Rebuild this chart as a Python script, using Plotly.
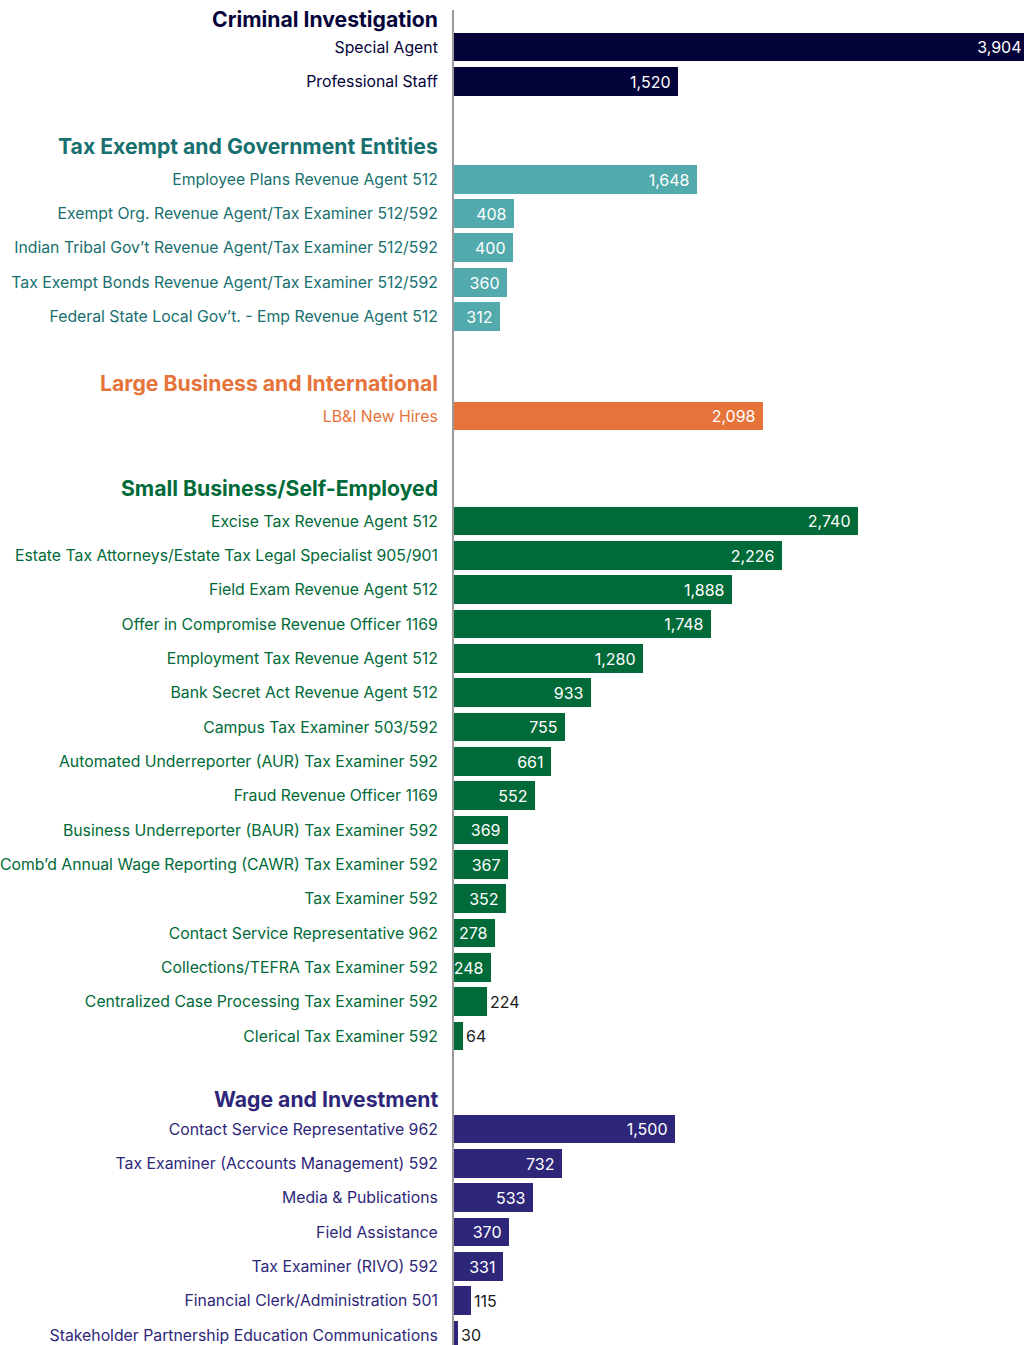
import plotly.graph_objects as go

# ---- data ----
groups = ["Criminal Investigation", "Tax Exempt and Government Entities",
          "Large Business and International", "Small Business/Self-Employed",
          "Wage and Investment"]

ci_labels = ["Special Agent", "Professional Staff"]
ci_values = [3904, 1520]

te_labels = ["Employee Plans Revenue Agent 512",
             "Exempt Org. Revenue Agent/Tax Examiner 512/592",
             "Indian Tribal Gov’t Revenue Agent/Tax Examiner 512/592",
             "Tax Exempt Bonds Revenue Agent/Tax Examiner 512/592",
             "Federal State Local Gov’t. - Emp Revenue Agent 512"]
te_values = [1648, 408, 400, 360, 312]

lb_labels = ["LB&I New Hires"]
lb_values = [2098]

sb_labels = ["Excise Tax Revenue Agent 512",
             "Estate Tax Attorneys/Estate Tax Legal Specialist 905/901",
             "Field Exam Revenue Agent 512",
             "Offer in Compromise Revenue Officer 1169",
             "Employment Tax Revenue Agent 512",
             "Bank Secret Act Revenue Agent 512",
             "Campus Tax Examiner 503/592",
             "Automated Underreporter (AUR) Tax Examiner 592",
             "Fraud Revenue Officer 1169",
             "Business Underreporter (BAUR) Tax Examiner 592",
             "Comb’d Annual Wage Reporting (CAWR) Tax Examiner 592",
             "Tax Examiner 592",
             "Contact Service Representative 962",
             "Collections/TEFRA Tax Examiner 592",
             "Centralized Case Processing Tax Examiner 592",
             "Clerical Tax Examiner 592"]
sb_values = [2740, 2226, 1888, 1748, 1280, 933, 755, 661, 552, 369, 367, 352,
             278, 248, 224, 64]

wi_labels = ["Contact Service Representative 962",
             "Tax Examiner (Accounts Management) 592",
             "Media & Publications",
             "Field Assistance",
             "Tax Examiner (RIVO) 592",
             "Financial Clerk/Administration 501",
             "Stakeholder Partnership Education Communications"]
wi_values = [1500, 732, 533, 370, 331, 115, 30]

# ---- styling ----
bar_colors = ["#04033a", "#52aaad", "#e5733a", "#006a38", "#2e2779"]
text_colors = ["#04033a", "#17706f", "#e5733a", "#006a38", "#2e2779"]
group_gaps = [1.0, 2.85, 2.90, 3.06, 2.71]       # slot distance from previous row
header_offsets = [0.82, 0.96, 0.96, 0.96, 0.87]  # header above first row
FONT = "Inter, Noto Sans, sans-serif"
SLOT_PX = 34.35

all_labels = [ci_labels, te_labels, lb_labels, sb_labels, wi_labels]
all_values = [ci_values, te_values, lb_values, sb_values, wi_values]

fig = go.Figure()
tickvals, ticktext, annotations = [], [], []
pos = -1.0
for gi, (labels, values) in enumerate(zip(all_labels, all_values)):
    start = pos + group_gaps[gi]
    ys = [start + i for i in range(len(labels))]
    pos = ys[-1]
    texts = ["{:,}\u00a0".format(v) for v in values]
    tpos = ["inside" if v >= 240 else "outside" for v in values]
    fig.add_trace(go.Bar(
        x=values, y=ys, orientation="h", width=0.84,
        marker=dict(color=bar_colors[gi], line=dict(width=0)),
        text=texts, textposition=tpos, insidetextanchor="end",
        constraintext="none", cliponaxis=False,
        insidetextfont=dict(color="white", size=16, family=FONT),
        outsidetextfont=dict(color="#1a1a1a", size=16, family=FONT),
        showlegend=False, hoverinfo="skip",
    ))
    for y, lab in zip(ys, labels):
        tickvals.append(y)
        ticktext.append(f"<span style='color:{text_colors[gi]}'>{lab}</span>")
    annotations.append(dict(
        x=0, xref="paper", y=start - header_offsets[gi], yref="y",
        text=f"<b>{groups[gi]}</b>", showarrow=False, xanchor="right",
        yanchor="middle", xshift=-14,
        font=dict(family=FONT, size=21.2, color=text_colors[gi]),
    ))

top_px = 37
bottom_px = 10
fig.update_layout(
    width=1029, height=1345,
    margin=dict(l=454, r=0, t=10, b=0, pad=0, autoexpand=False),
    paper_bgcolor="white", plot_bgcolor="white",
    annotations=annotations,
    bargap=0,
    font=dict(family=FONT),
)
fig.update_xaxes(range=[0, max(ci_values)], visible=False, fixedrange=True)
fig.update_yaxes(
    range=[pos + bottom_px / SLOT_PX, -top_px / SLOT_PX],
    tickvals=tickvals, ticktext=ticktext,
    tickfont=dict(family=FONT, size=15.8),
    ticks="", ticklabelstandoff=11, automargin=False,
    showgrid=False, zeroline=False,
    showline=True, linecolor="#9a9a9a", linewidth=2,
    fixedrange=True,
)

fig.write_html(
    "out.html",
    config={"displayModeBar": False},
    post_script="document.body.style.margin='0';"
                "document.body.style.overflow='hidden';"
                "document.documentElement.style.overflow='hidden';",
)
